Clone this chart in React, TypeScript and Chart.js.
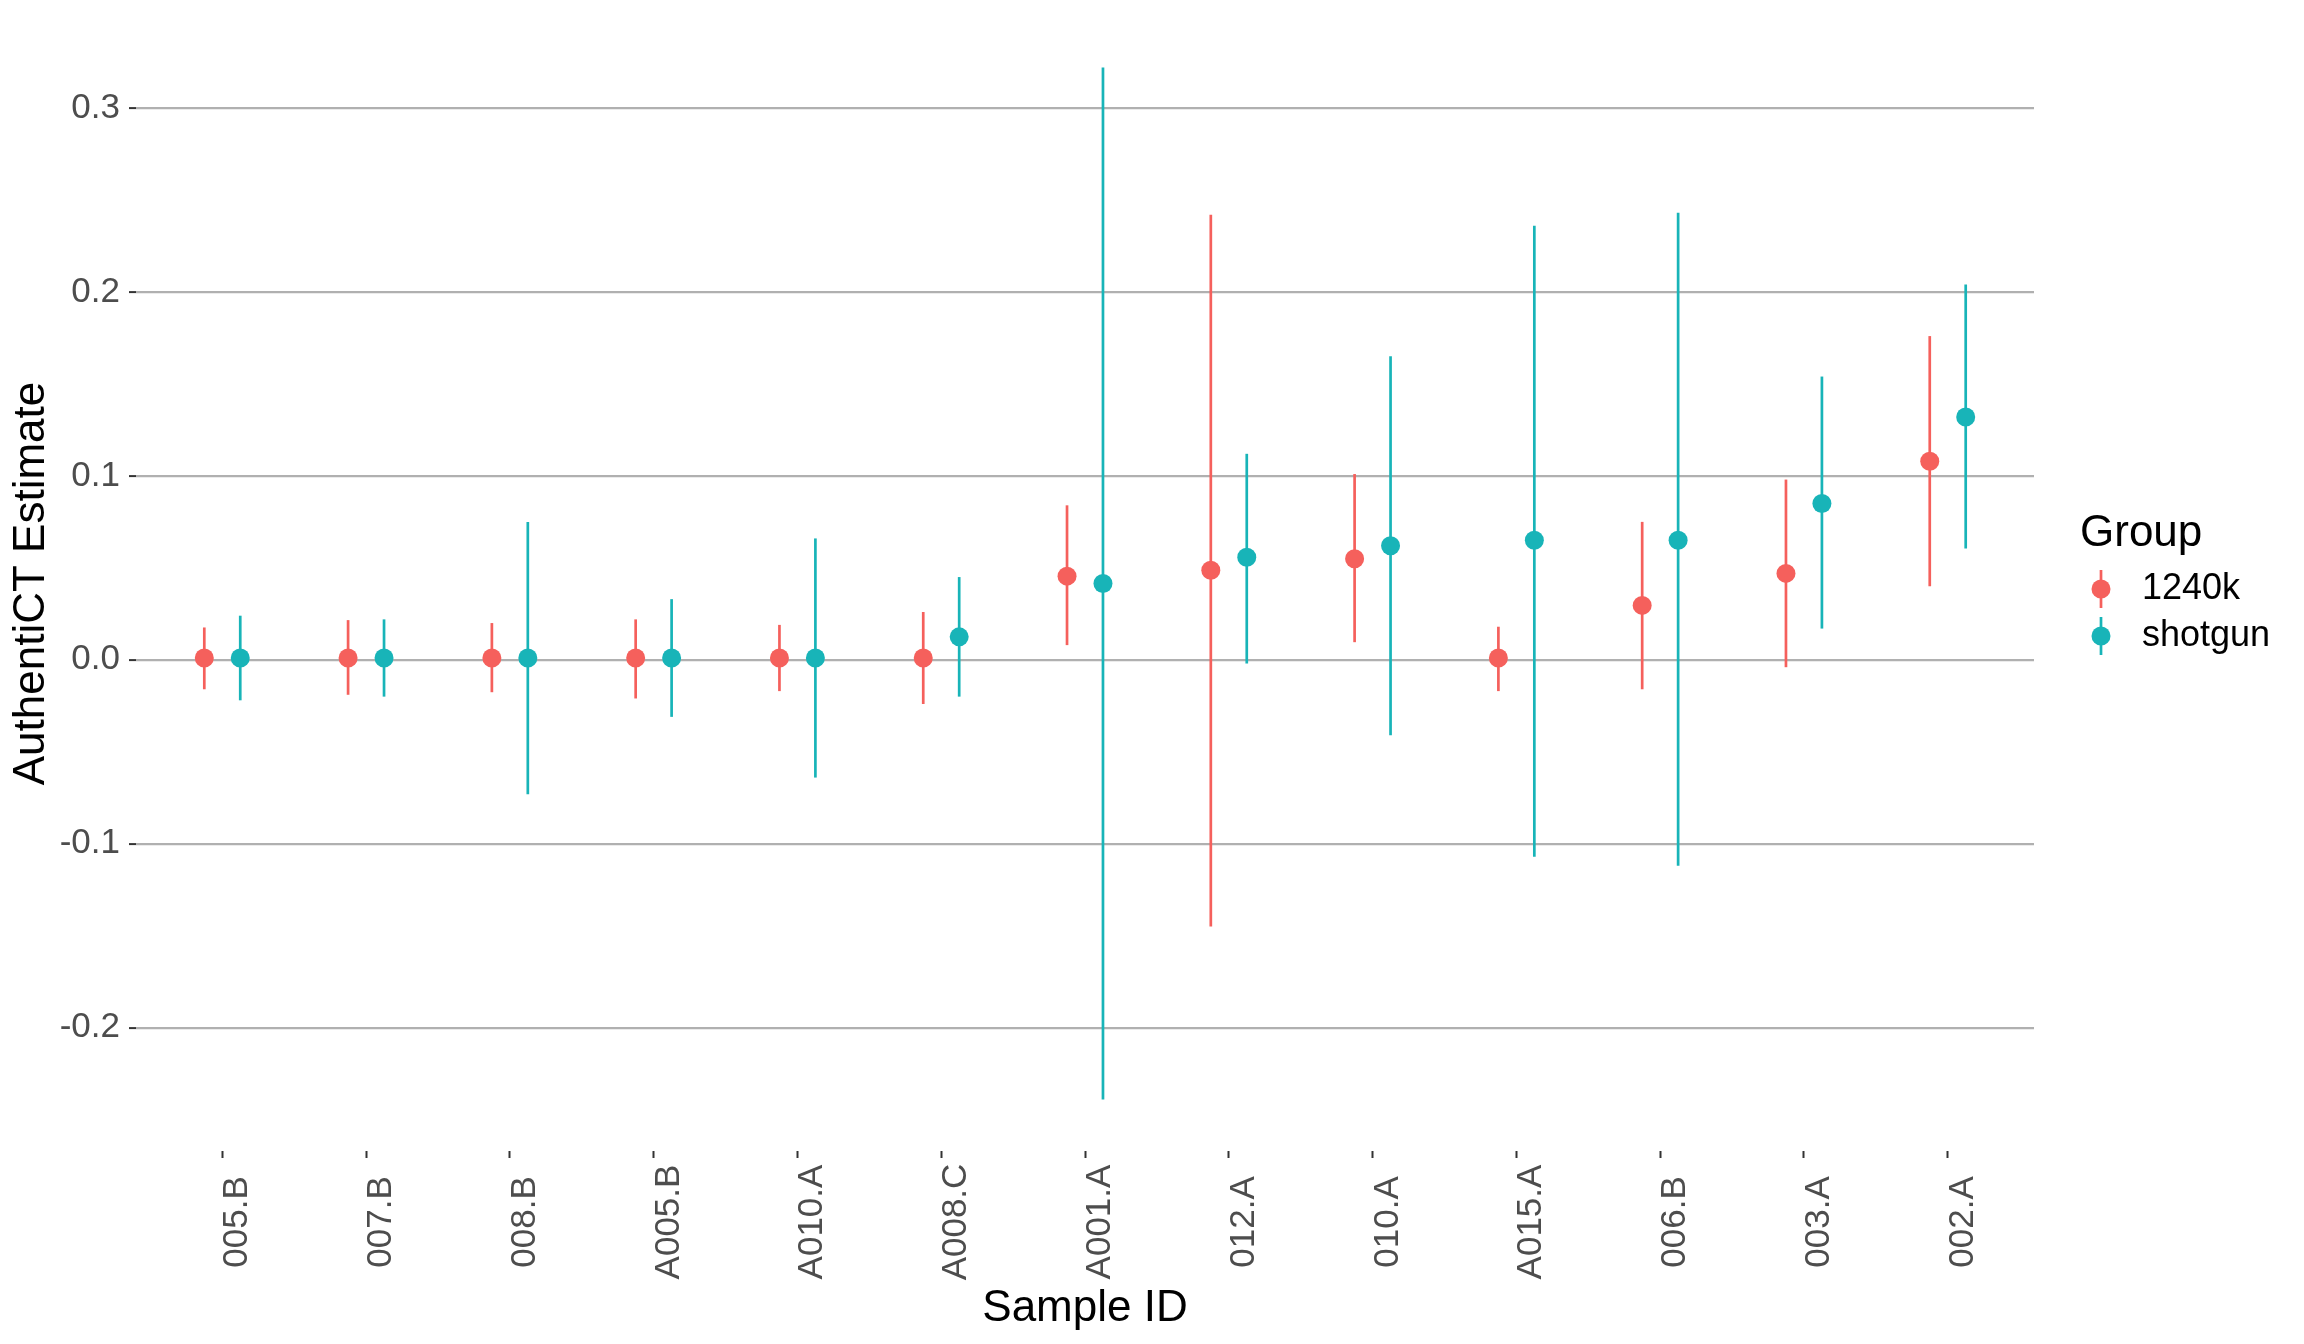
import React, { useEffect, useRef } from "react";
import { Chart, registerables } from "chart.js";

Chart.register(...registerables);

const categories = ["005.B", "007.B", "008.B", "A005.B", "A010.A", "A008.C", "A001.A", "012.A", "010.A", "A015.A", "006.B", "003.A", "002.A"];

const groupNames = ["1240k", "shotgun"];

const est1240k = [0.001, 0.001, 0.001, 0.001, 0.001, 0.001, 0.0455, 0.0487, 0.055, 0.001, 0.0296, 0.047, 0.108];
const lo1240k = [-0.016, -0.019, -0.0176, -0.021, -0.017, -0.024, 0.008, -0.145, 0.0096, -0.017, -0.016, -0.004, 0.04];
const hi1240k = [0.0176, 0.0216, 0.02, 0.022, 0.019, 0.026, 0.084, 0.242, 0.101, 0.018, 0.075, 0.098, 0.176];

const estShotgun = [0.001, 0.001, 0.001, 0.001, 0.001, 0.0125, 0.0415, 0.0558, 0.062, 0.065, 0.065, 0.085, 0.132];
const loShotgun = [-0.022, -0.02, -0.073, -0.031, -0.064, -0.02, -0.239, -0.002, -0.041, -0.107, -0.112, 0.017, 0.0605];
const hiShotgun = [0.024, 0.022, 0.075, 0.033, 0.066, 0.045, 0.322, 0.112, 0.165, 0.236, 0.243, 0.154, 0.204];

const yTicks = [-0.2, -0.1, 0.0, 0.1, 0.2, 0.3];
const yTickLabels = ["-0.2", "-0.1", "0.0", "0.1", "0.2", "0.3"];

const COLORS = ["#F5605C", "#18B4B8"];
const DODGE = 0.125;
const FONT = "'Liberation Sans', Arial, Helvetica, sans-serif";

const estimates = [est1240k, estShotgun];
const lows = [lo1240k, loShotgun];
const highs = [hi1240k, hiShotgun];

const errorBarPlugin = {
  id: "errorBars",
  beforeDatasetsDraw(chart: any) {
    const ctx = chart.ctx;
    const yScale = chart.scales.y;
    chart.data.datasets.forEach((ds: any, d: number) => {
      const meta = chart.getDatasetMeta(d);
      ctx.save();
      ctx.strokeStyle = COLORS[d];
      ctx.lineWidth = 2.7;
      meta.data.forEach((pt: any, i: number) => {
        const yLo = yScale.getPixelForValue(lows[d][i]);
        const yHi = yScale.getPixelForValue(highs[d][i]);
        ctx.beginPath();
        ctx.moveTo(pt.x, yLo);
        ctx.lineTo(pt.x, yHi);
        ctx.stroke();
      });
      ctx.restore();
    });
  },
};

const xLabelPlugin = {
  id: "xLabels",
  afterDraw(chart: any) {
    const ctx = chart.ctx;
    const xScale = chart.scales.x;
    ctx.save();
    ctx.fillStyle = "#4D4D4D";
    ctx.font = `35px ${FONT}`;
    ctx.textAlign = "center";
    ctx.textBaseline = "alphabetic";
    categories.forEach((c, i) => {
      const x = xScale.getPixelForValue(i);
      ctx.save();
      ctx.translate(x + 25, 1222);
      ctx.rotate(-Math.PI / 2);
      ctx.fillText(c, 0, 0);
      ctx.restore();
    });
    ctx.restore();
  },
};

const legendPlugin = {
  id: "ggLegend",
  afterDraw(chart: any) {
    const ctx = chart.ctx;
    ctx.save();
    ctx.fillStyle = "#000000";
    ctx.font = `44px ${FONT}`;
    ctx.textAlign = "left";
    ctx.textBaseline = "middle";
    ctx.fillText("Group", 2080, 534);
    const itemY = [589, 636];
    groupNames.forEach((g, k) => {
      const y = itemY[k];
      const x = 2101;
      ctx.strokeStyle = COLORS[k];
      ctx.lineWidth = 2.7;
      ctx.beginPath();
      ctx.moveTo(x, y - 19);
      ctx.lineTo(x, y + 19);
      ctx.stroke();
      ctx.fillStyle = COLORS[k];
      ctx.beginPath();
      ctx.arc(x, y, 9.5, 0, Math.PI * 2);
      ctx.fill();
      ctx.fillStyle = "#000000";
      ctx.font = `36px ${FONT}`;
      ctx.fillText(g, 2142, y);
    });
    ctx.restore();
  },
};

export default function App() {
  const canvasRef = useRef<HTMLCanvasElement | null>(null);

  useEffect(() => {
    if (!canvasRef.current) return;
    Chart.defaults.font.family = FONT;
    const datasets = groupNames.map((g, d) => ({
      label: g,
      data: categories.map((_, i) => ({ x: i + (d === 0 ? -DODGE : DODGE), y: estimates[d][i] })),
      backgroundColor: COLORS[d],
      borderColor: COLORS[d],
      borderWidth: 0,
      pointRadius: 9.5,
      pointHoverRadius: 9.5,
      showLine: false,
    }));

    const chart = new Chart(canvasRef.current, {
      type: "scatter",
      data: { datasets },
      options: {
        animation: false,
        responsive: false,
        devicePixelRatio: 1,
        layout: { padding: { left: 0, top: 16, right: 270, bottom: 0 } },
        plugins: {
          legend: { display: false },
          title: { display: false },
          tooltip: { enabled: false },
        },
        scales: {
          x: {
            type: "linear",
            min: -0.6,
            max: categories.length - 1 + 0.6,
            afterBuildTicks: (scale: any) => {
              scale.ticks = categories.map((_, i) => ({ value: i }));
            },
            afterFit: (scale: any) => {
              scale.height = 193;
              scale.paddingLeft = 0;
              scale.paddingRight = 0;
            },
            ticks: { display: false },
            grid: {
              display: true,
              drawOnChartArea: false,
              drawTicks: true,
              tickLength: 7,
              tickColor: "#333333",
              tickWidth: 2,
            },
            border: { display: false },
            title: {
              display: true,
              text: "Sample ID",
              color: "#000000",
              font: { size: 44, family: FONT, lineHeight: 1 },
              padding: { top: 0, bottom: 13 },
            },
          },
          y: {
            type: "linear",
            min: -0.267,
            max: 0.35,
            afterBuildTicks: (scale: any) => {
              scale.ticks = yTicks.map((v) => ({ value: v }));
            },
            afterFit: (scale: any) => {
              scale.width = 136;
              scale.paddingTop = 0;
              scale.paddingBottom = 0;
            },
            ticks: {
              color: "#4D4D4D",
              font: { size: 35, family: FONT },
              padding: 9,
              callback: (v: any) => {
                const idx = yTicks.findIndex((t) => Math.abs(t - Number(v)) < 1e-9);
                return idx >= 0 ? yTickLabels[idx] : "";
              },
            },
            grid: {
              display: true,
              drawOnChartArea: true,
              drawTicks: true,
              color: "#B0B0B0",
              lineWidth: 2.2,
              tickLength: 7,
              tickColor: "#333333",
              tickWidth: 2,
            },
            border: { display: false },
            title: {
              display: true,
              text: "AuthentiCT Estimate",
              color: "#000000",
              font: { size: 44, family: FONT, lineHeight: 1 },
              padding: { top: 10, bottom: 0 },
            },
          },
        },
      },
      plugins: [errorBarPlugin, xLabelPlugin, legendPlugin],
    } as any);

    return () => {
      chart.destroy();
    };
  }, []);

  return (
    <div style={{ position: "fixed", left: 0, top: 0, width: 2304, height: 1344, overflow: "hidden", background: "#ffffff" }}>
      <canvas ref={canvasRef} width={2304} height={1344} style={{ width: 2304, height: 1344, display: "block" }} />
    </div>
  );
}
